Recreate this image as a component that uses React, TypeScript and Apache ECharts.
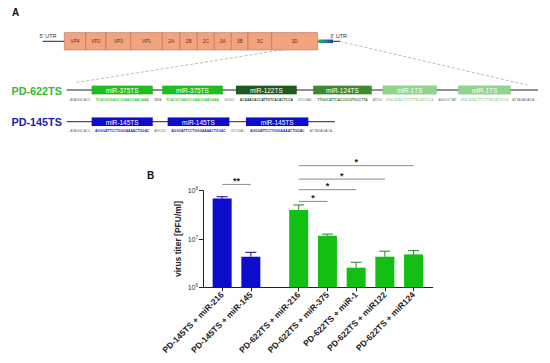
import React, { useEffect, useRef } from 'react';
import * as echarts from 'echarts';

// ---------- Panel B data ----------
const categories = [
  'PD-145TS + miR-216',
  'PD-145TS + miR-145',
  'PD-622TS + miR-216',
  'PD-622TS + miR-375',
  'PD-622TS + miR-1',
  'PD-622TS + miR122',
  'PD-622TS + miR124',
];
const titerMean = [6.9e7, 4.3e6, 4.0e7, 1.17e7, 2.55e6, 4.3e6, 4.8e6];
const titerSem = [0.6e7, 1.0e6, 1.06e7, 0.09e7, 0.75e6, 1.3e6, 0.95e6];
const construct = ['PD-145TS', 'PD-145TS', 'PD-622TS', 'PD-622TS', 'PD-622TS', 'PD-622TS', 'PD-622TS'];
const yTickExponents = [6, 7, 8];
const compFrom = [0, 2, 2, 2, 2];
const compTo = [1, 3, 4, 5, 6];
const compHeight = [1.35e8, 6.0e7, 1.05e8, 1.74e8, 3.3e8];
const compLabel = ['**', '*', '*', '*', '*'];

// ---------- Panel A data ----------
const genomeRegions = ['VP4', 'VP2', 'VP3', 'VP1', '2A', '2B', '2C', '3A', '3B', '3C', '3D'];
const pd622Sites = ['miR-375TS', 'miR-375TS', 'miR-122TS', 'miR-124TS', 'miR-1TS', 'miR-1TS'];
const pd145Sites = ['miR-145TS', 'miR-145TS', 'miR-145TS'];
const siteSeq: Record<string, string> = {
  'miR-375TS': 'TCACGCGAGCCGAACGAACAAA',
  'miR-122TS': 'ACAAACACCATTGTCACACTCCA',
  'miR-124TS': 'TTGGCATTCACCGCGTGCCTTA',
  'miR-1TS': 'ATACATACTTCTTTACATTCCA',
  'miR-145TS': 'AGGGATTCCTGGGAAAACTGGAC',
};
const pd622Spacers = ['TATA', 'GCGC', 'GTCGAC', 'ATCG', 'AGGCCTAT'];
const pd145Spacers = ['AGCGC', 'GTCGAC'];
const seqPrefix = '...ATAGGCACC';
const seqSuffix = 'ATTAGAGACA...';

// ---------- layout (pixels / slots) ----------
const SLOT_COUNT = 25;
const barSlot = [2, 5, 10, 13, 16, 19, 22];
const genomeEdges = [64.3, 85.7, 106, 130.7, 162.3, 180, 197.3, 214.3, 231.3, 248, 271.7, 317.7];
const pd622Boxes = [[91.7, 152.7], [162.3, 222.7], [236, 296.7], [313.3, 371.7], [382.7, 436.7], [458.3, 510.7]];
const pd145Boxes = [[91.7, 152.7], [167.7, 229.3], [246, 308.3]];

const COLORS: Record<string, string> = {
  'PD-145TS': '#0c0ccc',
  'PD-622TS': '#12bf12',
};
const ERR_COLORS: Record<string, string> = {
  'PD-145TS': '#0a0a90',
  'PD-622TS': '#2f7f2f',
};
const SITE_FILL: Record<string, string> = {
  'miR-375TS': '#1dbf1d',
  'miR-122TS': '#1d5a1f',
  'miR-124TS': '#3b8a2c',
  'miR-1TS': '#8fd68c',
  'miR-145TS': '#0c0ccc',
};
const SITE_TEXT: Record<string, string> = {
  'miR-375TS': '#3cbf3c',
  'miR-122TS': '#1d4d1d',
  'miR-124TS': '#3a7a2a',
  'miR-1TS': '#9fdc9c',
  'miR-145TS': '#2424b8',
};

const FONT = 'Liberation Sans, Arial, sans-serif';
const SEQ_FONT = `3.3px ${FONT}`;
const SEQ_FONT_B = `bold 3.3px ${FONT}`;

function buildPanelA(): any[] {
  const els: any[] = [];
  els.push({ type: 'text', x: 12, y: 7, style: { text: 'A', font: `bold 10px ${FONT}`, fill: '#111' } });
  // 5' UTR
  els.push({ type: 'line', shape: { x1: 42.7, y1: 41.3, x2: 64.3, y2: 41.3 }, style: { stroke: '#222', lineWidth: 1 } });
  els.push({ type: 'text', x: 48, y: 36, style: { text: "5' UTR", font: `5.5px ${FONT}`, fill: '#333', align: 'center', verticalAlign: 'middle' } });
  // genome segments
  genomeRegions.forEach((name, i) => {
    const x0 = genomeEdges[i];
    const x1 = genomeEdges[i + 1];
    els.push({ type: 'rect', shape: { x: x0, y: 32.6, width: x1 - x0, height: 17.4 }, style: { fill: '#f2a47e', stroke: '#b87050', lineWidth: 0.6 } });
    els.push({ type: 'text', x: (x0 + x1) / 2, y: 41.3, style: { text: name, font: `4.8px ${FONT}`, fill: '#5a3424', align: 'center', verticalAlign: 'middle' } });
  });
  // 3' UTR
  els.push({ type: 'line', shape: { x1: 317.7, y1: 41.3, x2: 340, y2: 41.3 }, style: { stroke: '#222', lineWidth: 1 } });
  els.push({
    type: 'rect', shape: { x: 318.5, y: 39.5, width: 14.5, height: 3.6 },
    style: { fill: new echarts.graphic.LinearGradient(0, 0, 1, 0, [{ offset: 0, color: '#2db34a' }, { offset: 0.5, color: '#1a7fa0' }, { offset: 1, color: '#1a3fa8' }]) },
  });
  els.push({ type: 'text', x: 338.5, y: 35.5, style: { text: "3' UTR", font: `5.5px ${FONT}`, fill: '#333', align: 'center', verticalAlign: 'middle' } });
  // dashed zoom lines
  els.push({ type: 'line', shape: { x1: 282, y1: 50, x2: 76, y2: 82.5 }, style: { stroke: '#aaa', lineWidth: 0.8, lineDash: [3, 2] } });
  els.push({ type: 'line', shape: { x1: 340, y1: 41.5, x2: 527, y2: 85 }, style: { stroke: '#aaa', lineWidth: 0.8, lineDash: [3, 2] } });

  const row = (label: string, labelColor: string, y: number, lineEnd: number, sites: string[], boxes: number[][], spacers: string[], seqY: number) => {
    els.push({ type: 'text', x: 11.5, y: y + 0.6, style: { text: label, font: `bold 10.8px ${FONT}`, fill: labelColor, verticalAlign: 'middle' } });
    els.push({ type: 'line', shape: { x1: 66.7, y1: y, x2: lineEnd, y2: y }, style: { stroke: '#222', lineWidth: 1 } });
    els.push({ type: 'text', x: boxes[0][0] - 1, y: seqY, style: { text: seqPrefix, font: SEQ_FONT, fill: '#666', align: 'right', verticalAlign: 'middle' } });
    sites.forEach((s, i) => {
      const [x0, x1] = boxes[i];
      els.push({ type: 'rect', shape: { x: x0, y: y - 4.3, width: x1 - x0, height: 8.6 }, style: { fill: SITE_FILL[s], stroke: 'rgba(0,0,0,0.15)', lineWidth: 0.5 } });
      els.push({ type: 'text', x: (x0 + x1) / 2, y: y + 0.3, style: { text: s, font: `6.5px ${FONT}`, fill: '#fff', align: 'center', verticalAlign: 'middle' } });
      els.push({ type: 'text', x: (x0 + x1) / 2, y: seqY, style: { text: siteSeq[s], font: SEQ_FONT_B, fill: SITE_TEXT[s], align: 'center', verticalAlign: 'middle' } });
      if (i < spacers.length) {
        const nx = boxes[i + 1][0];
        els.push({ type: 'text', x: (x1 + nx) / 2, y: seqY, style: { text: spacers[i], font: SEQ_FONT, fill: '#666', align: 'center', verticalAlign: 'middle' } });
      }
    });
    const last = boxes[boxes.length - 1][1];
    els.push({ type: 'text', x: last + 1.5, y: seqY, style: { text: seqSuffix, font: SEQ_FONT, fill: '#666', verticalAlign: 'middle' } });
  };
  row('PD-622TS', '#33bb33', 90, 538, pd622Sites, pd622Boxes, pd622Spacers, 99.5);
  row('PD-145TS', '#2020b0', 121.7, 335, pd145Sites, pd145Boxes, pd145Spacers, 131);

  els.push({ type: 'text', x: 147, y: 170.5, style: { text: 'B', font: `bold 10px ${FONT}`, fill: '#111' } });
  return els;
}

export default function App() {
  const ref = useRef<HTMLDivElement>(null);
  useEffect(() => {
    document.body.style.margin = '0';
    if (!ref.current) return;
    const chart = echarts.init(ref.current, undefined, { renderer: 'svg' });

    const slotNames = Array.from({ length: SLOT_COUNT }, (_, i) => `s${i}`);
    const slotLabel: Record<string, string> = {};
    categories.forEach((c, i) => { slotLabel[`s${barSlot[i]}`] = c; });

    const barData: any[] = slotNames.map(() => null);
    titerMean.forEach((v, i) => {
      barData[barSlot[i]] = { value: v, itemStyle: { color: COLORS[construct[i]] } };
    });
    const errData = titerMean.map((v, i) => [barSlot[i], v, v + titerSem[i], i]);
    const compData = compFrom.map((f, i) => [barSlot[f], barSlot[compTo[i]], compHeight[i], i]);

    chart.setOption({
      animation: false,
      textStyle: { fontFamily: FONT },
      graphic: { elements: buildPanelA() },
      grid: { left: 203, right: 117.3, top: 190.7, bottom: 75.7 },
      xAxis: {
        type: 'category',
        data: slotNames,
        boundaryGap: false,
        axisLine: { lineStyle: { color: '#222', width: 1 } },
        axisTick: { length: 4, lineStyle: { color: '#222' }, interval: (_i: number, v: string) => !!slotLabel[v] },
        axisLabel: {
          interval: (_i: number, v: string) => !!slotLabel[v],
          formatter: (v: string) => slotLabel[v] || '',
          rotate: 45,
          margin: 6,
          fontSize: 8.5,
          fontWeight: 'bold',
          color: '#222',
        },
      },
      yAxis: {
        type: 'log',
        logBase: 10,
        min: Math.pow(10, yTickExponents[0]),
        max: Math.pow(10, yTickExponents[yTickExponents.length - 1]),
        name: 'virus titer [PFU/ml]',
        nameLocation: 'middle',
        nameRotate: 90,
        nameGap: 21,
        nameTextStyle: { fontSize: 8.5, fontWeight: 'bold', color: '#222' },
        axisLine: { show: true, lineStyle: { color: '#222', width: 1 } },
        axisTick: { show: true, length: 4, lineStyle: { color: '#222' } },
        splitLine: { show: false },
        axisLabel: {
          margin: 5,
          formatter: (v: number) => `{a|10}{b|${Math.round(Math.log10(v))}}`,
          rich: {
            a: { fontSize: 7, color: '#333', lineHeight: 9 },
            b: { fontSize: 4.5, color: '#333', verticalAlign: 'top', lineHeight: 9 },
          },
        },
      },
      series: [
        {
          type: 'bar',
          data: barData,
          barWidth: 19,
          z: 2,
        },
        {
          type: 'custom',
          data: errData,
          encode: { x: 0, y: [1, 2] },
          z: 3,
          renderItem: (_p: any, api: any) => {
            const x = api.value(0);
            const p0 = api.coord([x, api.value(1)]);
            const p1 = api.coord([x, api.value(2)]);
            const c = ERR_COLORS[construct[api.value(3)]];
            return {
              type: 'group',
              children: [
                { type: 'line', shape: { x1: p0[0], y1: p0[1], x2: p1[0], y2: p1[1] }, style: { stroke: c, lineWidth: 1 } },
                { type: 'line', shape: { x1: p1[0] - 5.5, y1: p1[1], x2: p1[0] + 5.5, y2: p1[1] }, style: { stroke: c, lineWidth: 1 } },
              ],
            };
          },
        },
        {
          type: 'custom',
          data: compData,
          encode: { x: [0, 1], y: 2 },
          clip: false,
          z: 3,
          renderItem: (_p: any, api: any) => {
            const a = api.coord([api.value(0), api.value(2)]);
            const b = api.coord([api.value(1), api.value(2)]);
            return {
              type: 'group',
              children: [
                { type: 'line', shape: { x1: a[0], y1: a[1], x2: b[0], y2: b[1] }, style: { stroke: '#8a8a8a', lineWidth: 1 } },
                {
                  type: 'text', x: (a[0] + b[0]) / 2, y: a[1] - 3.2,
                  style: { text: compLabel[api.value(3)], font: `bold 9px ${FONT}`, fill: '#222', align: 'center', verticalAlign: 'middle' },
                },
              ],
            };
          },
        },
      ],
    });
    return () => chart.dispose();
  }, []);
  return <div ref={ref} style={{ width: 550, height: 363 }} />;
}
